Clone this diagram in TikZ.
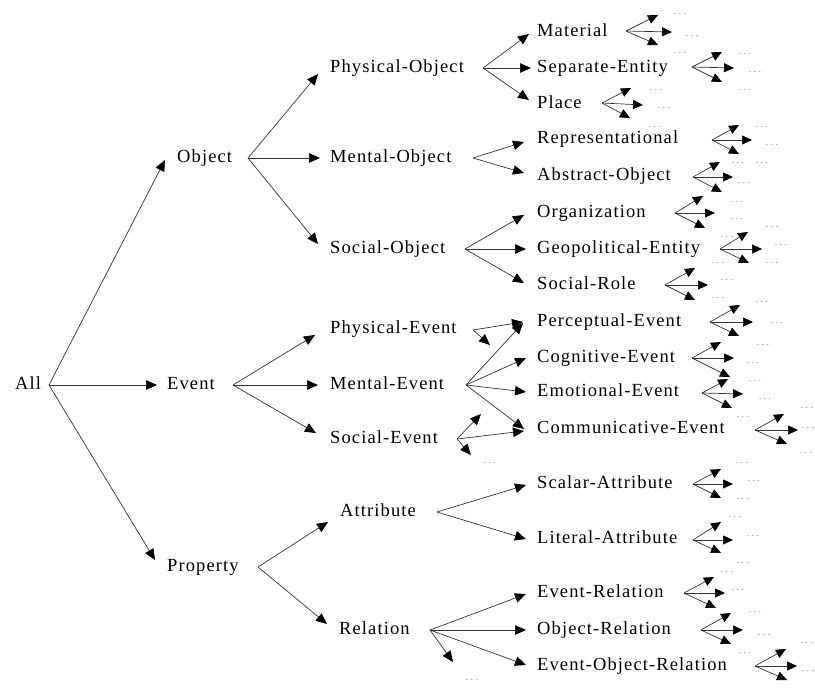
\documentclass[tikz,border=0pt]{standalone}
\usepackage{fontspec}
\setmainfont{Liberation Serif}
\newfontfamily\lblfont[LetterSpace=6]{Liberation Serif}
\usetikzlibrary{arrows.meta}
% three spaced dots for the open ends of the hierarchy
\newcommand\dd{.\kern2.4pt.\kern2.4pt.}
% a small three-way fan: fork, upper tip, middle tip, lower tip
\newcommand\drawfan[5]{%
  \coordinate (#1-f) at (#2);
  \coordinate (#1-u) at (#3);
  \coordinate (#1-r) at (#4);
  \coordinate (#1-d) at (#5);
  \draw[fanlink] (#1-f) -- (#1-u);
  \draw[fanlink] (#1-f) -- (#1-r);
  \draw[fanlink] (#1-f) -- (#1-d);
}
\begin{document}
\begin{tikzpicture}[x=1pt,y=-1pt,
  lbl/.style={anchor=west, inner sep=0pt, font=\lblfont\fontsize{18.5}{20}\selectfont,
              text height=12pt, text depth=4pt},
  link/.style={draw=black!80, line width=0.7pt,
               -{Triangle[length=11pt,width=9.5pt,color=black]}},
  fanlink/.style={draw=black!80, line width=0.7pt,
               -{Triangle[length=10pt,width=9pt,color=black]}},
  dotsnode/.style={inner sep=0pt, text=black!45, font=\fontsize{10}{10}\selectfont}]
\useasboundingbox (0,0) rectangle (815,688);

% ---- concept labels ----
\node[lbl] (all)  at (15,385)  {All};
\node[lbl] (obj)  at (177,158) {Object};
\node[lbl] (evt)  at (167,385) {Event};
\node[lbl] (prop) at (167,567) {Property};

\node[lbl] (physobj) at (330,68)  {Physical-Object};
\node[lbl] (mentobj) at (330,158) {Mental-Object};
\node[lbl] (socobj)  at (330,249) {Social-Object};
\node[lbl] (physevt) at (330,329) {Physical-Event};
\node[lbl] (mentevt) at (330,385) {Mental-Event};
\node[lbl] (socevt)  at (330,439) {Social-Event};
\node[lbl] (attr)    at (340,512) {Attribute};
\node[lbl] (rel)     at (339,630) {Relation};

\node[lbl] (mat)     at (537,32)  {Material};
\node[lbl] (sep)     at (537,68)  {Separate-Entity};
\node[lbl] (place)   at (537,104) {Place};
\node[lbl] (repr)    at (537,139) {Representational};
\node[lbl] (abstr)   at (537,176) {Abstract-Object};
\node[lbl] (org)     at (537,213) {Organization};
\node[lbl] (geo)     at (537,249) {Geopolitical-Entity};
\node[lbl] (role)    at (537,285) {Social-Role};
\node[lbl] (perc)    at (537,322) {Perceptual-Event};
\node[lbl] (cogn)    at (537,358) {Cognitive-Event};
\node[lbl] (emot)    at (537,392) {Emotional-Event};
\node[lbl] (comm)    at (537,429) {Communicative-Event};
\node[lbl] (scal)    at (537,484) {Scalar-Attribute};
\node[lbl] (lit)     at (537,539) {Literal-Attribute};
\node[lbl] (evrel)   at (537,593) {Event-Relation};
\node[lbl] (objrel)  at (537,630) {Object-Relation};
\node[lbl] (eorel)   at (537,666) {Event-Object-Relation};

% ---- fork points ----
\coordinate (all-f)     at (49,385);
\coordinate (obj-f)     at (248,158);
\coordinate (evt-f)     at (233,385);
\coordinate (prop-f)    at (258,567);
\coordinate (physobj-f) at (483,68);
\coordinate (mentobj-f) at (473,158);
\coordinate (socobj-f)  at (465,249);
\coordinate (physevt-f) at (473,330);
\coordinate (mentevt-f) at (466,385);
\coordinate (socevt-f)  at (457,439);
\coordinate (attr-f)    at (437,512);
\coordinate (rel-f)     at (430,630);
\coordinate (physevt-x) at (490,345);
\coordinate (socevt-u)  at (481,414);
\coordinate (socevt-x)  at (471,455);
\coordinate (rel-x)     at (453,662);

% ---- connectors ----
\draw[link] (all-f) -- ([shift={(-12,2)}]obj.west);
\draw[link] (all-f) -- ([shift={(-10,0)}]evt.west);
\draw[link] (all-f) -- ([shift={(-12,-7)}]prop.west);

\draw[link] (obj-f) -- ([shift={(-12,6)}]physobj.west);
\draw[link] (obj-f) -- ([shift={(-10,0)}]mentobj.west);
\draw[link] (obj-f) -- ([shift={(-12,-5)}]socobj.west);

\draw[link] (evt-f) -- ([shift={(-15,6)}]physevt.west);
\draw[link] (evt-f) -- ([shift={(-12,0)}]mentevt.west);
\draw[link] (evt-f) -- ([shift={(-14,-6)}]socevt.west);

\draw[link] (prop-f) -- ([shift={(-12,10)}]attr.west);
\draw[link] (prop-f) -- ([shift={(-12,-6)}]rel.west);

\draw[link] (physobj-f) -- ([shift={(-8,2)}]mat.west);
\draw[link] (physobj-f) -- ([shift={(-6,0)}]sep.west);
\draw[link] (physobj-f) -- ([shift={(-8,-4)}]place.west);

\draw[link] (mentobj-f) -- ([shift={(-13,3)}]repr.west);
\draw[link] (mentobj-f) -- ([shift={(-13,-3)}]abstr.west);

\draw[link] (socobj-f) -- ([shift={(-13,2)}]org.west);
\draw[link] (socobj-f) -- ([shift={(-11,0)}]geo.west);
\draw[link] (socobj-f) -- ([shift={(-13,-2)}]role.west);

\draw[link] (physevt-f) -- ([shift={(-14,0)}]perc.west);
\draw[link] (physevt-f) -- (physevt-x);

\draw[link] (mentevt-f) -- ([shift={(-14,1)}]perc.west);
\draw[link] (mentevt-f) -- ([shift={(-11,0)}]cogn.west);
\draw[link] (mentevt-f) -- ([shift={(-11,0)}]emot.west);
\draw[link] (mentevt-f) -- ([shift={(-13,0)}]comm.west);

\draw[link] (socevt-f) -- (socevt-u);
\draw[link] (socevt-f) -- ([shift={(-13,2)}]comm.west);
\draw[link] (socevt-f) -- (socevt-x);

\draw[link] (attr-f) -- ([shift={(-11,1)}]scal.west);
\draw[link] (attr-f) -- ([shift={(-11,0)}]lit.west);

\draw[link] (rel-f) -- ([shift={(-11,1)}]evrel.west);
\draw[link] (rel-f) -- ([shift={(-11,0)}]objrel.west);
\draw[link] (rel-f) -- ([shift={(-11,-1)}]eorel.west);
\draw[link] (rel-f) -- (rel-x);

% ---- open-ended fans of the leaf concepts ----
\drawfan{mat}{626,31}{658,15}{672,32}{658,45}
\drawfan{sep}{692,67}{722,52}{734,68}{722,82}
\drawfan{place}{602,103}{631,88}{643,105}{630,118}
\drawfan{repr}{712,140}{739,125}{752,140}{739,154}
\drawfan{abstr}{693,177}{720,162}{733,177}{722,192}
\drawfan{org}{675,213}{703,196}{715,213}{705,228}
\drawfan{geo}{720,249}{748,232}{762,249}{749,263}
\drawfan{role}{665,285}{695,268}{708,285}{695,300}
\drawfan{perc}{710,322}{740,305}{753,322}{739,336}
\drawfan{cogn}{692,358}{721,342}{734,358}{730,377}
\drawfan{emot}{702,393}{728,379}{743,394}{732,408}
\drawfan{comm}{755,430}{784,414}{798,430}{787,444}
\drawfan{scal}{693,484}{721,469}{733,484}{721,498}
\drawfan{lit}{693,540}{721,522}{733,540}{721,553}
\drawfan{evrel}{684,593}{714,577}{725,593}{716,608}
\drawfan{objrel}{701,630}{731,613}{743,630}{731,644}
\drawfan{eorel}{755,666}{786,649}{797,666}{787,680}

% ---- continuation dots ----
\foreach \p [count=\i] in {
  {680,14},{692,36},{680,53},
  {745,54},{755,72},{745,90},
  {656,90},{664,108},{655,127},
  {762,127},{772,145},
  {738,163},{762,163},{744,183},
  {737,202},{737,219},
  {727,237},{772,227},{781,245},{772,263},{718,263},
  {727,280},{718,298},{762,302},
  {777,323},
  {763,345},{753,363},
  {755,381},{765,399},{743,417},
  {807,408},{808,428},{806,453},
  {742,463},{754,481},{743,499},
  {735,517},{753,536},{743,563},
  {727,572},{738,590},
  {755,612},{764,635},{745,653},
  {807,643},{808,671},
  {490,463},{472,680}}
  \node[dotsnode] (dots\i) at (\p) {\dd};
\end{tikzpicture}
\end{document}
